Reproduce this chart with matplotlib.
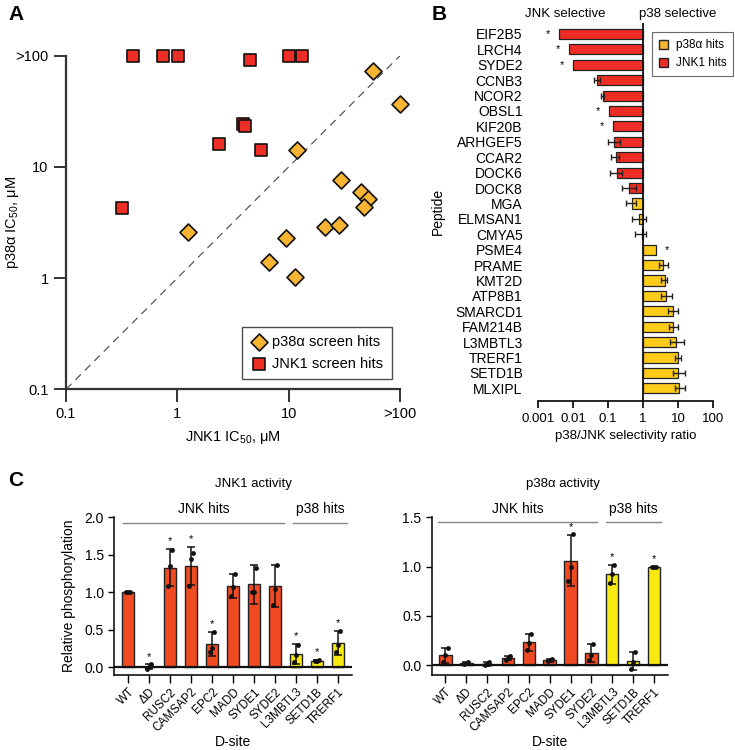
import matplotlib
matplotlib.use("Agg")
import matplotlib.pyplot as plt
import numpy as np
from matplotlib.patches import Patch

plt.rcParams['font.family'] = ['Liberation Sans', 'DejaVu Sans']
plt.rcParams['mathtext.fontset'] = 'custom'
plt.rcParams['mathtext.rm'] = 'Liberation Sans'
plt.rcParams['mathtext.it'] = 'Liberation Sans:italic'

RED = '#EE2E24'
ORANGE = '#F8B532'
YEL_B = '#FDCB1A'
RED_C = '#F04A23'
YEL_C = '#F8EA10'

# ---- panel A: IC50 scatter (100 means ">100")
jnk_hits_x = [0.40, 0.75, 1.02, 4.5, 10.1, 13.3, 3.9, 4.06, 2.37, 5.7, 0.32]
jnk_hits_y = [100, 100, 100, 91, 100, 100, 24.2, 23.5, 16.2, 14.1, 4.3]
p38_hits_x = [57.7, 100, 11.8, 29.4, 44.7, 52, 47.9, 21.2, 28.4, 1.24, 9.4, 6.7, 11.4]
p38_hits_y = [73, 36.6, 14.1, 7.6, 6.0, 5.15, 4.4, 2.88, 3.0, 2.6, 2.3, 1.4, 1.03]

# ---- panel B: selectivity ratio
peptides = ['EIF2B5', 'LRCH4', 'SYDE2', 'CCNB3', 'NCOR2', 'OBSL1', 'KIF20B', 'ARHGEF5',
            'CCAR2', 'DOCK6', 'DOCK8', 'MGA', 'ELMSAN1', 'CMYA5', 'PSME4', 'PRAME',
            'KMT2D', 'ATP8B1', 'SMARCD1', 'FAM214B', 'L3MBTL3', 'TRERF1', 'SETD1B', 'MLXIPL']
ratio = [0.004, 0.0076, 0.010, 0.050, 0.074, 0.105, 0.14, 0.15, 0.17, 0.18, 0.40, 0.47,
         0.75, 0.92, 2.3, 3.7, 4.2, 4.6, 7.2, 7.2, 8.9, 10.0, 10.3, 10.5]
ratio_lo = [None, None, None, 0.039, 0.065, None, None, 0.10, 0.122, 0.112, 0.25, 0.33,
            0.50, 0.58, None, 2.9, 3.35, 3.35, 5.2, 5.5, 6.0, 8.0, 7.2, 8.0]
ratio_hi = [None, None, None, 0.059, 0.077, None, None, 0.22, 0.206, 0.246, 0.65, 0.65,
            1.19, 1.19, None, 5.2, 4.85, 6.7, 10.0, 10.0, 14.5, 12.5, 15.5, 16.3]
is_p38_hit = [False] * 11 + [True] * 13
b_signif = ['EIF2B5', 'LRCH4', 'SYDE2', 'OBSL1', 'KIF20B', 'PSME4']

# ---- panel C: in vitro phosphorylation
dsites = ['WT', 'ΔD', 'RUSC2', 'CAMSAP2', 'EPC2', 'MADD', 'SYDE1', 'SYDE2',
          'L3MBTL3', 'SETD1B', 'TRERF1']
c_is_p38 = [False] * 8 + [True] * 3
jnk_mean = [1.0, 0.01, 1.33, 1.35, 0.31, 1.09, 1.11, 1.08, 0.18, 0.09, 0.33]
jnk_sd = [0.0, 0.03, 0.25, 0.25, 0.16, 0.16, 0.26, 0.28, 0.13, 0.01, 0.16]
jnk_pts = [[1, 1, 1], [-0.02, 0.0, 0.05], [1.08, 1.35, 1.56], [1.08, 1.44, 1.53],
           [0.20, 0.26, 0.47], [0.95, 1.07, 1.25], [1.0, 1.0, 1.33], [0.83, 1.05, 1.36],
           [0.07, 0.17, 0.30], [0.08, 0.09, 0.10], [0.20, 0.30, 0.49]]
jnk_signif = ['ΔD', 'RUSC2', 'CAMSAP2', 'EPC2', 'L3MBTL3', 'SETD1B', 'TRERF1']
p38_mean = [0.10, 0.02, 0.01, 0.07, 0.23, 0.05, 1.06, 0.12, 0.92, 0.04, 1.0]
p38_sd = [0.075, 0.01, 0.02, 0.02, 0.09, 0.015, 0.26, 0.09, 0.10, 0.09, 0.0]
p38_pts = [[0.03, 0.10, 0.17], [0.01, 0.02, 0.03], [0.0, 0.01, 0.03], [0.05, 0.07, 0.09],
           [0.15, 0.22, 0.32], [0.04, 0.05, 0.06], [0.85, 1.0, 1.33], [0.05, 0.10, 0.21],
           [0.83, 0.92, 1.02], [-0.04, 0.03, 0.13], [1, 1, 1]]
p38_signif = ['SYDE1', 'L3MBTL3', 'TRERF1']

fig = plt.figure(figsize=(7.35, 7.5), dpi=100)
W, H = 735, 750


def px_axes(x0, y0, x1, y1):
    return fig.add_axes([x0 / W, 1 - y1 / H, (x1 - x0) / W, (y1 - y0) / H])


# ================= A
axA = px_axes(66, 55.7, 400, 389.3)
axA.set_xscale('log')
axA.set_yscale('log')
axA.set_xlim(0.1, 100)
axA.set_ylim(0.1, 100)
axA.plot([0.1, 100], [0.1, 100], ls=(0, (7, 5)), color='#444', lw=0.8)
axA.scatter(p38_hits_x, p38_hits_y, marker='D', s=75, c=ORANGE, edgecolors='#111',
            linewidths=1.2, clip_on=False, zorder=3, label='p38α screen hits')
axA.scatter(jnk_hits_x, jnk_hits_y, marker='s', s=75, c=RED, edgecolors='#111',
            linewidths=1.2, clip_on=False, zorder=3, label='JNK1 screen hits')
ticksA = [0.1, 1, 10, 100]
labsA = ['0.1', '1', '10', '>100']
axA.set_xticks(ticksA, labsA)
axA.set_yticks(ticksA, labsA)
axA.minorticks_off()
for s in ['top', 'right']:
    axA.spines[s].set_visible(False)
for s in ['left', 'bottom']:
    axA.spines[s].set_linewidth(1.6)
    axA.spines[s].set_color('#333')
axA.tick_params(length=9, width=1.4, color='#333', labelsize=10.5)
axA.set_xlabel(r'JNK1 IC$_{50}$, μM', fontsize=10.5, labelpad=6)
axA.set_ylabel(r'p38α IC$_{50}$, μM', fontsize=10.5)
axA.yaxis.set_label_coords(-0.135, 0.5)
legA = axA.legend(loc='lower right', bbox_to_anchor=(0.976, 0.03), borderaxespad=0,
                  fontsize=10.5, frameon=True, fancybox=False, edgecolor='#222',
                  handletextpad=0.3, borderpad=0.6, labelspacing=0.5, handlelength=1.2)
legA.get_frame().set_linewidth(1.0)

# ================= B
axB = px_axes(538, 22.7, 713, 401)
yB = np.arange(len(peptides))
colB = [YEL_B if p else RED for p in is_p38_hit]
axB.barh(yB, np.array(ratio) - 1, left=1, height=0.66, color=colB, edgecolor='#222',
         linewidth=0.9, zorder=2)
for i in range(len(peptides)):
    if ratio_lo[i] is None:
        continue
    axB.errorbar(ratio[i], i, xerr=[[ratio[i] - ratio_lo[i]], [ratio_hi[i] - ratio[i]]],
                 fmt='none', ecolor='#222', elinewidth=1.0, capsize=2.5, capthick=1.0, zorder=3)
for name in b_signif:
    i = peptides.index(name)
    v = ratio[i]
    dx = -8 if v < 1 else 8
    axB.annotate('*', (v, i), xytext=(dx, 0), textcoords='offset points',
                 ha='center', va='center', fontsize=8)
axB.axvline(1, color='#111', lw=1.3, zorder=4)
axB.set_xscale('log')
axB.set_xlim(0.001, 100)
axB.set_ylim(len(peptides) - 1 + 0.82, -0.73)
axB.set_xticks([0.001, 0.01, 0.1, 1, 10, 100], ['0.001', '0.01', '0.1', '1', '10', '100'])
axB.minorticks_off()
axB.set_yticks(yB, peptides)
axB.tick_params(axis='y', length=0, pad=11, labelsize=10)
axB.tick_params(axis='x', length=5, width=1.2, labelsize=9.5)
for s in ['top', 'right', 'left']:
    axB.spines[s].set_visible(False)
axB.spines['bottom'].set_linewidth(1.2)
axB.set_xlabel('p38/JNK selectivity ratio', fontsize=9.5, labelpad=4)
axB.set_ylabel('Peptide', fontsize=10)
axB.yaxis.set_label_coords(-0.53, 0.5)
axB.text(0.006, -1.3, 'JNK selective', ha='center', va='center', fontsize=9.5)
axB.text(10, -1.3, 'p38 selective', ha='center', va='center', fontsize=9.5)
legB = axB.legend(handles=[Patch(facecolor=ORANGE, edgecolor='#222', label='p38α hits'),
                           Patch(facecolor=RED, edgecolor='#222', label='JNK1 hits')],
                  loc='upper left', bbox_to_anchor=(0.651, 0.975), borderaxespad=0,
                  fontsize=8.5, frameon=True, fancybox=False, edgecolor='#444',
                  handlelength=0.8, handleheight=0.8, handletextpad=0.6, borderpad=0.6)
legB.get_frame().set_linewidth(0.8)


# ================= C
def activity_panel(ax, mean, sd, pts, signif, ymax, yticks, title, title_x, line_y, jnk_span, p38_span):
    x = np.arange(len(dsites))
    cols = [YEL_C if p else RED_C for p in c_is_p38]
    ax.bar(x, mean, width=0.6, color=cols, edgecolor='#222', linewidth=1.0, zorder=2)
    ax.errorbar(x, mean, yerr=sd, fmt='none', ecolor='#111', elinewidth=1.1,
                capsize=3, capthick=1.1, zorder=3)
    offs = [-0.1, 0.0, 0.1]
    for i, p in enumerate(pts):
        ax.scatter(x[i] + np.array(offs), p, s=6, color='#111', zorder=4)
    for name in signif:
        i = dsites.index(name)
        ax.annotate('*', (i, mean[i] + sd[i]), xytext=(0, 2), textcoords='offset points',
                    ha='center', va='bottom', fontsize=8)
    ax.axhline(0, color='#111', lw=1.6, zorder=5)
    ax.set_xlim(-0.66, 10.66)
    ax.set_ylim(-0.1, ymax)
    ax.set_yticks(yticks, [f'{t:.1f}' for t in yticks])
    ax.set_xticks(x, dsites, rotation=45, ha='right', rotation_mode='anchor')
    ax.tick_params(axis='x', length=6, width=1.0, labelsize=8.5, pad=2)
    ax.tick_params(axis='y', length=4, width=1.0, labelsize=10)
    for s in ['top', 'right']:
        ax.spines[s].set_visible(False)
    for s in ['left', 'bottom']:
        ax.spines[s].set_linewidth(1.1)
    ax.set_xlabel('D-site', fontsize=10)
    ax.xaxis.set_label_coords(0.5, -0.38)
    ax.text(title_x, 1.21, title, transform=ax.transAxes, ha='center', va='center', fontsize=9.5)
    ax.plot(jnk_span, [line_y, line_y], color='#888', lw=1.0, clip_on=False)
    ax.plot(p38_span, [line_y, line_y], color='#888', lw=1.0, clip_on=False)
    dy = ymax * 0.045
    ax.text(np.mean(jnk_span), line_y + dy, 'JNK hits', ha='center', va='bottom', fontsize=10)
    ax.text(np.mean(p38_span), line_y + dy, 'p38 hits', ha='center', va='bottom', fontsize=10)


axC1 = px_axes(114.3, 517.3, 351.7, 675)
activity_panel(axC1, jnk_mean, jnk_sd, jnk_pts, jnk_signif, 2.0, [0, 0.5, 1.0, 1.5, 2.0],
               'JNK1 activity', 0.588, 1.93, [-0.24, 7.42], [7.86, 10.44])
axC1.set_ylabel('Relative phosphorylation', fontsize=10, labelpad=6)

axC2 = px_axes(431.7, 517.3, 667.7, 675)
activity_panel(axC2, p38_mean, p38_sd, p38_pts, p38_signif, 1.5, [0, 0.5, 1.0, 1.5],
               'p38α activity', 0.556, 1.45, [-0.35, 7.29], [7.72, 10.32])

fig.text(8 / W, 1 - 14 / H, 'A', fontsize=15, fontweight='bold', va='center')
fig.text(432 / W, 1 - 14 / H, 'B', fontsize=15, fontweight='bold', va='center')
fig.text(8 / W, 1 - 480 / H, 'C', fontsize=15, fontweight='bold', va='center')

fig.savefig('out.png', dpi=100)
